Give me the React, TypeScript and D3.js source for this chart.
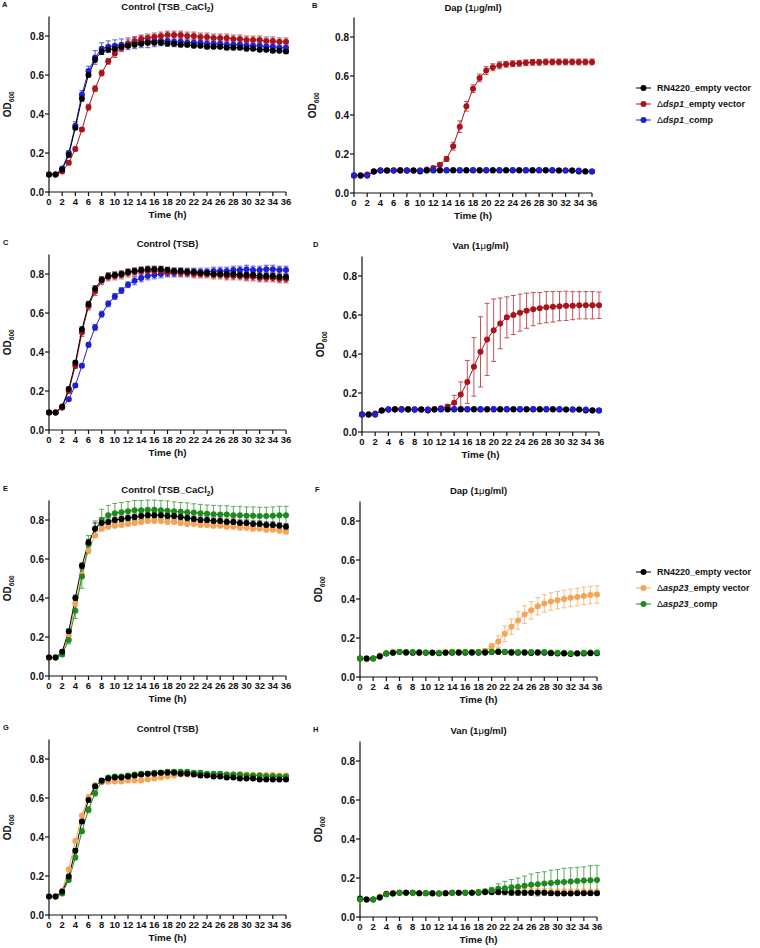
import React from "react";
import * as d3 from "d3";

// ---------- data ----------
const hours = d3.range(0, 37);
const xTicks = d3.range(0, 37, 2);
const yTicks = [0, 0.2, 0.4, 0.6, 0.8];

const legendTop = ["RN4220_empty vector", "dsp1_empty vector", "dsp1_comp"];
const legendBottom = ["RN4220_empty vector", "asp23_empty vector", "asp23_comp"];

// Panel A — Control (TSB_CaCl2)
const A_rn = [0.09,0.09,0.115,0.19,0.33,0.48,0.60,0.68,0.72,0.73,0.735,0.745,0.75,0.755,0.76,0.765,0.765,0.765,0.76,0.76,0.755,0.755,0.75,0.75,0.745,0.745,0.745,0.74,0.74,0.74,0.735,0.735,0.73,0.73,0.725,0.725,0.72];
const A_rnErr = [0.005,0.005,0.005,0.01,0.01,0.015,0.01,0.015,0.015,0.01,0.01,0.01,0.01,0.01,0.01,0.01,0.01,0.01,0.01,0.01,0.01,0.01,0.01,0.01,0.01,0.01,0.01,0.01,0.01,0.01,0.01,0.01,0.01,0.01,0.01,0.01,0.01];
const A_mut = [0.09,0.09,0.105,0.15,0.22,0.32,0.435,0.53,0.61,0.67,0.71,0.74,0.76,0.775,0.785,0.79,0.795,0.80,0.805,0.805,0.805,0.80,0.80,0.795,0.795,0.79,0.79,0.79,0.785,0.785,0.78,0.78,0.78,0.775,0.775,0.77,0.77];
const A_mutErr = [0.005,0.005,0.005,0.01,0.01,0.01,0.015,0.015,0.015,0.015,0.02,0.02,0.02,0.02,0.02,0.02,0.02,0.02,0.02,0.02,0.02,0.02,0.02,0.02,0.02,0.02,0.02,0.02,0.02,0.02,0.02,0.02,0.02,0.02,0.02,0.02,0.02];
const A_comp = [0.09,0.09,0.12,0.2,0.34,0.5,0.62,0.69,0.735,0.745,0.75,0.755,0.76,0.765,0.77,0.77,0.775,0.775,0.775,0.77,0.77,0.765,0.765,0.765,0.76,0.76,0.76,0.755,0.755,0.755,0.75,0.75,0.75,0.745,0.745,0.74,0.74];
const A_compErr = [0.005,0.005,0.01,0.01,0.02,0.02,0.025,0.035,0.03,0.03,0.03,0.03,0.03,0.03,0.03,0.03,0.03,0.025,0.025,0.025,0.02,0.02,0.02,0.02,0.02,0.02,0.02,0.02,0.02,0.02,0.02,0.02,0.02,0.02,0.02,0.02,0.02];

// Panel B — Dap
const B_rn = [0.09,0.09,0.09,0.11,0.115,0.115,0.115,0.115,0.115,0.115,0.11,0.115,0.115,0.115,0.115,0.115,0.115,0.115,0.115,0.115,0.115,0.115,0.115,0.115,0.115,0.115,0.115,0.115,0.115,0.115,0.115,0.115,0.115,0.115,0.11,0.11,0.11];
const B_rnErr = [0.003,0.003,0.003,0.003,0.003,0.003,0.003,0.003,0.003,0.003,0.003,0.003,0.003,0.003,0.003,0.003,0.003,0.003,0.003,0.003,0.003,0.003,0.003,0.003,0.003,0.003,0.003,0.003,0.003,0.003,0.003,0.003,0.003,0.003,0.003,0.003,0.003];
const B_mut = [0.09,0.09,0.095,0.11,0.115,0.115,0.115,0.118,0.115,0.115,0.115,0.12,0.128,0.145,0.175,0.24,0.34,0.445,0.535,0.59,0.628,0.645,0.655,0.66,0.663,0.665,0.668,0.67,0.67,0.672,0.672,0.672,0.672,0.672,0.672,0.672,0.672];
const B_mutErr = [0.003,0.003,0.003,0.003,0.003,0.003,0.003,0.003,0.003,0.003,0.003,0.005,0.008,0.01,0.012,0.02,0.03,0.025,0.02,0.02,0.02,0.018,0.018,0.015,0.015,0.015,0.015,0.015,0.015,0.015,0.015,0.015,0.015,0.015,0.015,0.015,0.015];
const B_comp = [0.09,0.09,0.09,0.11,0.115,0.115,0.115,0.115,0.115,0.115,0.115,0.115,0.118,0.118,0.118,0.118,0.118,0.118,0.118,0.118,0.118,0.118,0.118,0.118,0.118,0.118,0.118,0.118,0.118,0.118,0.118,0.115,0.115,0.115,0.115,0.112,0.11];
const B_compErr = B_rnErr;

// Panel C — Control (TSB)
const C_rn = [0.09,0.09,0.12,0.21,0.345,0.515,0.645,0.725,0.77,0.79,0.795,0.80,0.81,0.815,0.82,0.825,0.825,0.825,0.82,0.815,0.815,0.81,0.81,0.805,0.805,0.80,0.80,0.80,0.80,0.795,0.795,0.795,0.79,0.79,0.79,0.785,0.785];
const C_rnErr = [0.005,0.005,0.005,0.01,0.012,0.015,0.015,0.015,0.015,0.015,0.015,0.015,0.015,0.015,0.015,0.015,0.015,0.015,0.015,0.015,0.015,0.015,0.015,0.015,0.015,0.015,0.015,0.015,0.015,0.015,0.015,0.015,0.015,0.015,0.015,0.015,0.015];
const C_mut = [0.09,0.09,0.115,0.20,0.33,0.50,0.635,0.71,0.765,0.785,0.79,0.795,0.805,0.81,0.815,0.815,0.815,0.815,0.81,0.81,0.805,0.805,0.80,0.80,0.80,0.795,0.795,0.79,0.79,0.79,0.785,0.785,0.78,0.78,0.78,0.775,0.775];
const C_mutErr = [0.005,0.005,0.005,0.01,0.015,0.02,0.02,0.02,0.02,0.02,0.02,0.02,0.02,0.02,0.02,0.02,0.02,0.02,0.02,0.02,0.02,0.02,0.02,0.02,0.02,0.02,0.02,0.02,0.02,0.02,0.02,0.02,0.02,0.02,0.02,0.02,0.02];
const C_comp = [0.09,0.09,0.115,0.158,0.228,0.33,0.437,0.526,0.594,0.647,0.685,0.715,0.745,0.765,0.78,0.79,0.795,0.80,0.805,0.805,0.81,0.81,0.81,0.81,0.81,0.815,0.815,0.815,0.82,0.82,0.825,0.82,0.82,0.825,0.825,0.82,0.82];
const C_compErr = [0.005,0.005,0.005,0.008,0.01,0.01,0.012,0.015,0.015,0.015,0.015,0.015,0.015,0.02,0.02,0.02,0.02,0.02,0.02,0.02,0.02,0.02,0.02,0.02,0.02,0.02,0.02,0.02,0.02,0.02,0.02,0.02,0.02,0.02,0.02,0.02,0.02];

// Panel D — Van
const D_rn = B_rn;
const D_rnErr = B_rnErr;
const D_mut = [0.09,0.09,0.095,0.11,0.115,0.118,0.118,0.118,0.115,0.115,0.115,0.118,0.122,0.13,0.15,0.192,0.257,0.334,0.411,0.475,0.522,0.557,0.588,0.60,0.612,0.622,0.63,0.635,0.64,0.642,0.645,0.647,0.648,0.65,0.65,0.65,0.65];
const D_mutErr = [0.003,0.003,0.003,0.003,0.003,0.003,0.003,0.003,0.003,0.003,0.003,0.003,0.005,0.012,0.038,0.065,0.11,0.15,0.18,0.185,0.16,0.13,0.105,0.1,0.095,0.09,0.085,0.08,0.08,0.078,0.075,0.075,0.072,0.07,0.07,0.07,0.068];
const D_comp = B_comp;
const D_compErr = B_rnErr;

// Panel E — Control (TSB_CaCl2), asp23
const E_rn = [0.095,0.095,0.125,0.23,0.40,0.565,0.685,0.755,0.785,0.79,0.80,0.805,0.81,0.815,0.82,0.825,0.825,0.825,0.82,0.82,0.815,0.81,0.805,0.80,0.80,0.795,0.795,0.79,0.79,0.785,0.785,0.78,0.78,0.775,0.775,0.77,0.765];
const E_rnErr = [0.005,0.005,0.008,0.01,0.015,0.015,0.015,0.03,0.025,0.015,0.015,0.015,0.015,0.015,0.015,0.015,0.015,0.015,0.015,0.015,0.015,0.015,0.015,0.015,0.015,0.015,0.015,0.015,0.015,0.015,0.015,0.015,0.015,0.015,0.015,0.015,0.015];
const E_mut = [0.095,0.095,0.115,0.21,0.37,0.52,0.645,0.72,0.755,0.765,0.77,0.775,0.78,0.785,0.79,0.795,0.795,0.795,0.79,0.79,0.785,0.78,0.78,0.775,0.775,0.77,0.77,0.765,0.765,0.76,0.76,0.755,0.755,0.75,0.75,0.745,0.74];
const E_mutErr = [0.005,0.005,0.005,0.01,0.01,0.01,0.01,0.01,0.01,0.01,0.01,0.01,0.01,0.01,0.01,0.01,0.01,0.01,0.01,0.01,0.01,0.01,0.01,0.01,0.01,0.01,0.01,0.01,0.01,0.01,0.01,0.01,0.01,0.01,0.01,0.01,0.01];
const E_comp = [0.095,0.095,0.11,0.185,0.335,0.51,0.675,0.755,0.80,0.825,0.835,0.84,0.845,0.85,0.85,0.852,0.852,0.85,0.848,0.845,0.842,0.84,0.838,0.835,0.832,0.83,0.828,0.828,0.825,0.825,0.822,0.822,0.82,0.82,0.822,0.825,0.825];
const E_compErr = [0.005,0.005,0.01,0.02,0.04,0.06,0.045,0.04,0.055,0.05,0.05,0.05,0.05,0.05,0.05,0.05,0.05,0.05,0.05,0.048,0.048,0.048,0.045,0.045,0.045,0.045,0.045,0.045,0.045,0.045,0.045,0.045,0.045,0.045,0.045,0.045,0.045];

// Panel F — Dap, asp23
const F_rn = [0.095,0.095,0.095,0.105,0.12,0.125,0.128,0.125,0.125,0.125,0.125,0.125,0.122,0.125,0.125,0.125,0.125,0.125,0.125,0.125,0.128,0.128,0.128,0.125,0.125,0.125,0.123,0.125,0.125,0.122,0.12,0.12,0.118,0.12,0.12,0.122,0.122];
const F_rnErr = B_rnErr;
const F_mut = [0.095,0.09,0.095,0.11,0.12,0.13,0.13,0.13,0.125,0.125,0.125,0.125,0.125,0.13,0.13,0.13,0.13,0.13,0.13,0.135,0.157,0.182,0.222,0.258,0.29,0.32,0.342,0.363,0.377,0.387,0.394,0.40,0.406,0.41,0.416,0.42,0.423];
const F_mutErr = [0.005,0.005,0.005,0.005,0.005,0.005,0.005,0.005,0.005,0.005,0.005,0.005,0.005,0.005,0.005,0.005,0.005,0.005,0.005,0.01,0.015,0.03,0.04,0.04,0.045,0.045,0.045,0.045,0.045,0.045,0.045,0.045,0.045,0.045,0.045,0.045,0.045];
const F_comp = [0.095,0.095,0.095,0.108,0.122,0.125,0.128,0.128,0.128,0.128,0.126,0.126,0.125,0.125,0.128,0.128,0.128,0.128,0.128,0.13,0.13,0.132,0.13,0.13,0.128,0.128,0.128,0.128,0.128,0.126,0.124,0.124,0.122,0.122,0.124,0.126,0.126];
const F_compErr = B_rnErr;

// Panel G — Control (TSB), asp23
const G_rn = [0.095,0.095,0.12,0.197,0.33,0.48,0.59,0.66,0.69,0.70,0.705,0.705,0.71,0.715,0.72,0.725,0.725,0.73,0.73,0.73,0.725,0.725,0.72,0.715,0.715,0.71,0.71,0.705,0.705,0.70,0.70,0.70,0.695,0.695,0.695,0.695,0.695];
const G_rnErr = [0.005,0.005,0.005,0.008,0.01,0.01,0.01,0.01,0.01,0.008,0.008,0.008,0.008,0.008,0.008,0.008,0.008,0.008,0.008,0.008,0.008,0.008,0.008,0.008,0.008,0.008,0.008,0.008,0.008,0.008,0.008,0.008,0.008,0.008,0.008,0.008,0.008];
const G_mut = [0.095,0.095,0.125,0.235,0.38,0.51,0.605,0.665,0.68,0.683,0.685,0.685,0.69,0.69,0.69,0.695,0.70,0.705,0.71,0.715,0.72,0.72,0.72,0.72,0.72,0.72,0.72,0.72,0.72,0.72,0.72,0.718,0.718,0.718,0.718,0.715,0.715];
const G_mutErr = G_rnErr;
const G_comp = [0.095,0.095,0.11,0.18,0.295,0.43,0.54,0.625,0.685,0.705,0.71,0.71,0.715,0.72,0.725,0.725,0.73,0.73,0.735,0.735,0.735,0.735,0.73,0.73,0.725,0.725,0.725,0.72,0.72,0.72,0.715,0.715,0.715,0.712,0.712,0.71,0.71];
const G_compErr = [0.005,0.005,0.008,0.01,0.012,0.012,0.015,0.015,0.01,0.01,0.01,0.01,0.01,0.01,0.01,0.01,0.01,0.01,0.01,0.01,0.01,0.01,0.01,0.01,0.01,0.01,0.01,0.01,0.01,0.01,0.01,0.01,0.01,0.01,0.01,0.01,0.01];

// Panel H — Van, asp23
const H_rn = [0.095,0.09,0.09,0.10,0.118,0.12,0.125,0.125,0.125,0.122,0.122,0.122,0.12,0.122,0.125,0.125,0.125,0.125,0.125,0.127,0.127,0.127,0.128,0.125,0.125,0.125,0.125,0.125,0.125,0.122,0.12,0.12,0.12,0.122,0.122,0.122,0.122];
const H_rnErr = B_rnErr;
const H_mut = [0.09,0.09,0.09,0.105,0.12,0.125,0.125,0.125,0.125,0.122,0.122,0.122,0.12,0.122,0.125,0.125,0.125,0.125,0.128,0.13,0.13,0.13,0.132,0.132,0.13,0.13,0.13,0.13,0.13,0.128,0.128,0.128,0.128,0.128,0.128,0.128,0.128];
const H_mutErr = [0.003,0.003,0.003,0.003,0.003,0.003,0.003,0.003,0.003,0.003,0.003,0.003,0.003,0.003,0.003,0.003,0.003,0.003,0.005,0.008,0.01,0.012,0.015,0.015,0.015,0.015,0.015,0.015,0.015,0.015,0.015,0.015,0.015,0.015,0.015,0.015,0.015];
const H_comp = [0.09,0.09,0.09,0.10,0.115,0.12,0.125,0.125,0.125,0.122,0.122,0.12,0.12,0.122,0.125,0.125,0.125,0.125,0.128,0.132,0.137,0.145,0.148,0.152,0.155,0.16,0.165,0.168,0.172,0.175,0.178,0.18,0.182,0.185,0.187,0.188,0.19];
const H_compErr = [0.005,0.005,0.005,0.005,0.005,0.005,0.005,0.005,0.005,0.005,0.005,0.005,0.005,0.005,0.005,0.005,0.005,0.005,0.005,0.01,0.015,0.025,0.035,0.04,0.045,0.05,0.055,0.06,0.06,0.065,0.065,0.07,0.07,0.07,0.07,0.075,0.075];

// ---------- style ----------
const BLACK = "#000000";
const RED = "#a8141c";
const BLUE = "#1f1fd6";
const ORANGE = "#f6a355";
const GREEN = "#1e8a1e";
const FONT = "'Liberation Sans', Arial, Helvetica, sans-serif";

type Series = { values: number[]; errors: number[]; color: string };
type Panel = {
  letter: string;
  title: string;
  x0: number;
  x1: number;
  y0: number;
  letterX: number;
  interleave: boolean;
  series: Series[];
};

const panels: Panel[] = [
  { letter: "A", title: "ctrlCa", x0: 49, x1: 286, y0: 192, letterX: 2, interleave: false, series: [
    { values: A_comp, errors: A_compErr, color: BLUE },
    { values: A_mut, errors: A_mutErr, color: RED },
    { values: A_rn, errors: A_rnErr, color: BLACK } ] },
  { letter: "B", title: "dap", x0: 354, x1: 592, y0: 193, letterX: 312, interleave: true, series: [
    { values: B_mut, errors: B_mutErr, color: RED },
    { values: B_rn, errors: B_rnErr, color: BLACK },
    { values: B_comp, errors: B_compErr, color: BLUE } ] },
  { letter: "C", title: "ctrl", x0: 49, x1: 286, y0: 430, letterX: 3, interleave: false, series: [
    { values: C_comp, errors: C_compErr, color: BLUE },
    { values: C_mut, errors: C_mutErr, color: RED },
    { values: C_rn, errors: C_rnErr, color: BLACK } ] },
  { letter: "D", title: "van", x0: 362, x1: 599, y0: 432, letterX: 313, interleave: true, series: [
    { values: D_mut, errors: D_mutErr, color: RED },
    { values: D_rn, errors: D_rnErr, color: BLACK },
    { values: D_comp, errors: D_compErr, color: BLUE } ] },
  { letter: "E", title: "ctrlCa", x0: 49, x1: 286, y0: 676, letterX: 3, interleave: false, series: [
    { values: E_mut, errors: E_mutErr, color: ORANGE },
    { values: E_comp, errors: E_compErr, color: GREEN },
    { values: E_rn, errors: E_rnErr, color: BLACK } ] },
  { letter: "F", title: "dap", x0: 360, x1: 597, y0: 677, letterX: 315, interleave: true, series: [
    { values: F_mut, errors: F_mutErr, color: ORANGE },
    { values: F_rn, errors: F_rnErr, color: BLACK },
    { values: F_comp, errors: F_compErr, color: GREEN } ] },
  { letter: "G", title: "ctrl", x0: 49, x1: 286, y0: 915, letterX: 3, interleave: false, series: [
    { values: G_mut, errors: G_mutErr, color: ORANGE },
    { values: G_comp, errors: G_compErr, color: GREEN },
    { values: G_rn, errors: G_rnErr, color: BLACK } ] },
  { letter: "H", title: "van", x0: 360, x1: 597, y0: 917, letterX: 313, interleave: true, series: [
    { values: H_mut, errors: H_mutErr, color: ORANGE },
    { values: H_rn, errors: H_rnErr, color: BLACK },
    { values: H_comp, errors: H_compErr, color: GREEN } ] },
];

const PLOT_H = 175.5;

function Title({ kind, x, y }: { kind: string; x: number; y: number }) {
  const common = { x, y, textAnchor: "middle" as const, fontFamily: FONT, fontWeight: 700, fontSize: 9.5, fill: "#111" };
  if (kind === "ctrlCa")
    return (
      <text {...common}>
        Control (TSB_CaCl<tspan fontSize={6.5} dy={2.5}>2</tspan><tspan dy={-2.5}>)</tspan>
      </text>
    );
  if (kind === "ctrl") return <text {...common}>Control (TSB)</text>;
  const drug = kind === "dap" ? "Dap" : "Van";
  return (
    <text {...common}>
      {drug} (1<tspan fontWeight={400}>μ</tspan>g/ml)
    </text>
  );
}

function PanelView({ p }: { p: Panel }) {
  const x = d3.scaleLinear().domain([0, 36]).range([p.x0, p.x1]);
  const y = d3.scaleLinear().domain([0, 0.9]).range([p.y0, p.y0 - PLOT_H]);
  const line = d3.line<number>().x((_, i) => x(hours[i])).y((v) => y(v));
  const cx = (p.x0 + p.x1) / 2;
  const cy = p.y0 - PLOT_H / 2;
  const titleY = p.y0 - PLOT_H - 7.5 + (p.letter === "A" || p.letter === "B" ? 0.5 : 0);

  // marker drawing order: per time point; for flat-line panels the last two
  // series swap at odd hours so their overlapping symbols alternate
  const markers: { key: string; cx: number; cy: number; color: string }[] = [];
  hours.forEach((h, i) => {
    const order = p.series.map((_, k) => k);
    if (p.interleave && i % 2 === 1) {
      const n = order.length;
      [order[n - 2], order[n - 1]] = [order[n - 1], order[n - 2]];
    }
    order.forEach((k) => {
      const s = p.series[k];
      markers.push({ key: `${k}-${i}`, cx: x(h), cy: y(s.values[i]), color: s.color });
    });
  });

  return (
    <g>
      <text x={p.letterX} y={p.y0 - PLOT_H - 10} fontFamily={FONT} fontWeight={700} fontSize={7.5} fill="#111">{p.letter}</text>
      <Title kind={p.title} x={cx} y={titleY} />
      {/* y axis */}
      <line x1={p.x0} x2={p.x0} y1={y(0)} y2={y(0.9)} stroke="#111" strokeWidth={1.2} />
      {yTicks.map((t) => (
        <g key={t}>
          <line x1={p.x0 - 4} x2={p.x0} y1={y(t)} y2={y(t)} stroke="#111" strokeWidth={1.2} />
          <text x={p.x0 - 5} y={y(t) + 3.5} textAnchor="end" fontFamily={FONT} fontWeight={700} fontSize={10} fill="#111">{d3.format(".1f")(t)}</text>
        </g>
      ))}
      {/* x axis */}
      <line x1={p.x0} x2={p.x1} y1={p.y0} y2={p.y0} stroke="#111" strokeWidth={1.2} />
      {xTicks.map((t) => (
        <g key={t}>
          <line x1={x(t)} x2={x(t)} y1={p.y0} y2={p.y0 + 4} stroke="#111" strokeWidth={1.2} />
          <text x={x(t)} y={p.y0 + 13} textAnchor="middle" fontFamily={FONT} fontWeight={700} fontSize={9.5} fill="#111">{t}</text>
        </g>
      ))}
      <text x={cx} y={p.y0 + 26} textAnchor="middle" fontFamily={FONT} fontWeight={700} fontSize={9.8} fill="#111">Time (h)</text>
      <text transform={`translate(${p.x0 - 38},${cy}) rotate(-90)`} textAnchor="middle" fontFamily={FONT} fontWeight={700} fontSize={10} fill="#111">
        OD<tspan fontSize={6.5} dy={2.5}>600</tspan>
      </text>
      {/* lines and error bars */}
      {p.series.map((s, si) => (
        <g key={si}>
          <path d={line(s.values) || ""} fill="none" stroke={s.color} strokeWidth={1} />
          {s.values.map((v, i) => {
            const e = s.errors[i];
            if (y(v - e) - y(v + e) < 2) return null;
            const xx = x(hours[i]);
            return (
              <g key={i} stroke={s.color} strokeWidth={0.9} opacity={0.8}>
                <line x1={xx} x2={xx} y1={y(v - e)} y2={y(v + e)} />
                <line x1={xx - 2.5} x2={xx + 2.5} y1={y(v + e)} y2={y(v + e)} />
                <line x1={xx - 2.5} x2={xx + 2.5} y1={y(v - e)} y2={y(v - e)} />
              </g>
            );
          })}
        </g>
      ))}
      {/* symbols */}
      {markers.map((m) => (
        <circle key={m.key} cx={m.cx} cy={m.cy} r={3} fill={m.color} />
      ))}
    </g>
  );
}

function Legend({ items, colors, cy }: { items: string[]; colors: string[]; cy: number }) {
  return (
    <g>
      {items.map((label, i) => {
        const yy = cy + (i - 1) * 16;
        const isMut = i > 0;
        const us = label.indexOf("_");
        return (
          <g key={i}>
            <line x1={636} x2={651} y1={yy} y2={yy} stroke={colors[i]} strokeWidth={1} />
            <circle cx={643.5} cy={yy} r={3} fill={colors[i]} />
            <text x={657} y={yy + 3.3} fontFamily={FONT} fontWeight={700} fontSize={9} fill="#111">
              {isMut ? (
                <>
                  <tspan fontWeight={400}>Δ</tspan>
                  <tspan fontStyle="italic">{label.slice(0, us)}</tspan>
                  {label.slice(us)}
                </>
              ) : (
                label
              )}
            </text>
          </g>
        );
      })}
    </g>
  );
}

export default function App() {
  return (
    <svg width={760} height={948} style={{ position: "absolute", left: 0, top: 0, background: "#fff" }}>
      <rect width={760} height={948} fill="#fff" />
      {panels.map((p) => (
        <PanelView key={p.letter} p={p} />
      ))}
      <Legend items={legendTop} colors={[BLACK, RED, BLUE]} cy={104} />
      <Legend items={legendBottom} colors={[BLACK, ORANGE, GREEN]} cy={588} />
    </svg>
  );
}
